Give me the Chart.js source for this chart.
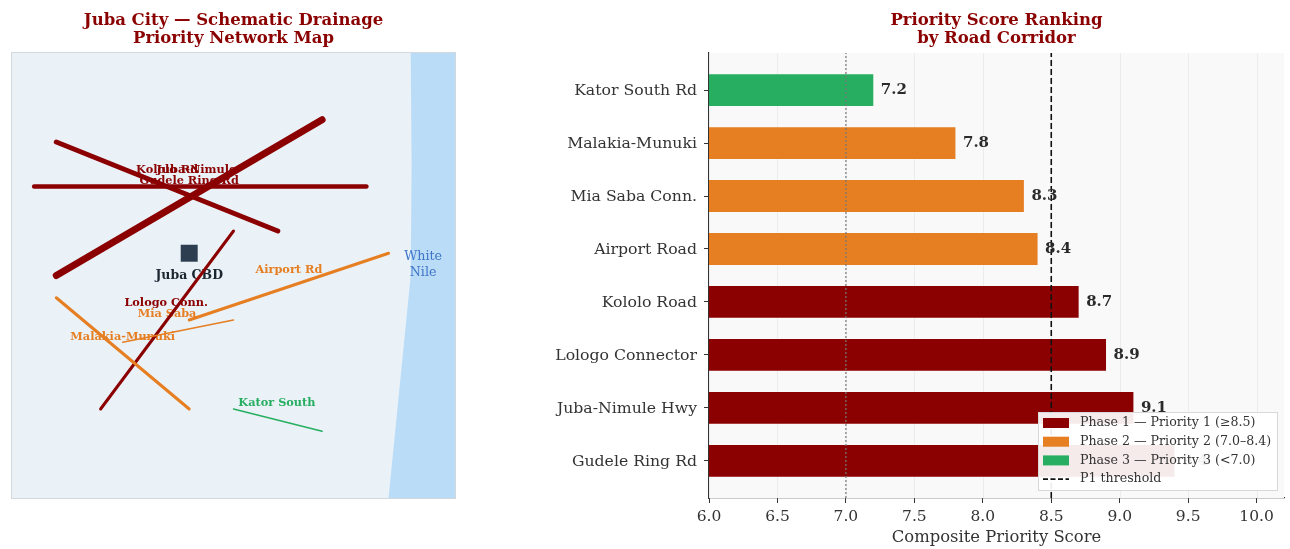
<!DOCTYPE html>
<html><head><meta charset="utf-8">
<style>
html,body{margin:0;padding:0;background:#fff;width:1290px;height:549px;overflow:hidden}
canvas{position:absolute;top:0}
#map{left:0}
#rank{left:540px}
</style>
<script src="https://cdn.jsdelivr.net/npm/chart.js@4/dist/chart.umd.min.js"></script>
</head><body>
<canvas id="map" width="467" height="549"></canvas>
<canvas id="rank" width="750" height="549"></canvas>
<script>
const FONT = '"DejaVu Serif"';
const P1 = '#8B0000', P2 = '#E67E22', P3 = '#27AE60', TITLE = '#8B0000', INK = '#2b2b2b';

// ---- Map data ----
const mapTitle = ['Juba City — Schematic Drainage', 'Priority Network Map'];
const roadGudele = [{x:0.5,y:7},{x:8,y:7}];
const roadKololo = [{x:1,y:8},{x:6,y:6}];
const roadNimule = [{x:1,y:5},{x:7,y:8.5}];
const roadLologo = [{x:2,y:2},{x:5,y:6}];
const roadAirport = [{x:4,y:4},{x:8.5,y:5.5}];
const roadMiaSaba = [{x:2.5,y:3.5},{x:5,y:4}];
const roadMalakia = [{x:1,y:4.5},{x:4,y:2}];
const roadKator = [{x:5,y:2},{x:7,y:1.5}];
const riverOutline = [{x:9,y:10},{x:9.02,y:7.5},{x:9,y:5},{x:8.8,y:3},{x:8.5,y:0},{x:10,y:0},{x:10,y:10},{x:9,y:10}];
const cbdPoint = [{x:4,y:5.5}];
const mapLabels = [
  ['Kololo Rd',3.5,7.37,P1],['Juba-Nimule',4.16,7.37,P1],['Gudele Ring Rd',4.0,7.12,P1],
  ['Lologo Conn.',3.48,4.38,P1],['Airport Rd',6.25,5.12,P2],['Mia Saba',3.5,4.13,P2],
  ['Malakia-Munuki',2.5,3.62,P2],['Kator South',5.98,2.13,P3]
];

// ---- Ranking data ----
const rankTitle = ['Priority Score Ranking', 'by Road Corridor'];
const corridors = ['Gudele Ring Rd','Juba-Nimule Hwy','Lologo Connector','Kololo Road','Airport Road','Mia Saba Conn.','Malakia-Munuki','Kator South Rd'];
const scores = [9.4,9.1,8.9,8.7,8.4,8.3,7.8,7.2];
const barColors = [P1,P1,P1,P1,P2,P2,P2,P3];
const xTickValues = [6,6.5,7,7.5,8,8.5,9,9.5,10];
const yLimits = [-0.7,7.7];
const xLimits = [6,10.2];
const thresholdP1 = 8.5, thresholdP2 = 7.0;
const legendRows = [
  ['Phase 1 — Priority 1 (≥8.5)',P1],['Phase 2 — Priority 2 (7.0–8.4)',P2],
  ['Phase 3 — Priority 3 (<7.0)',P3],['P1 threshold',null]
];

function road(data,color,w,order){return {type:'scatter',data,showLine:true,borderColor:color,borderWidth:w,borderCapStyle:'round',pointRadius:0,fill:false,tension:0,order};}

const mapPlugin = {
  id:'mapExtras',
  beforeDatasetsDraw(c){
    const a=c.chartArea,x=c.ctx;x.save();x.fillStyle='#EAF2F8';x.fillRect(a.left-.5,a.top-.5,a.width+1,a.height+1);x.restore();
  },
  beforeDatasetDraw(c,args){
    if(c.data.datasets[args.index].order!==9) return;
    const x=c.ctx,sx=c.scales.x,sy=c.scales.y;
    x.save();x.textAlign='center';x.textBaseline='middle';
    x.font='bold 11.3px '+FONT;
    mapLabels.forEach(l=>{x.fillStyle=l[3];x.fillText(l[0],sx.getPixelForValue(l[1]),sy.getPixelForValue(l[2]));});
    x.font='bold 12.5px '+FONT;x.fillStyle='#1b2631';
    x.fillText('Juba CBD',sx.getPixelForValue(4.0),sy.getPixelForValue(4.99));
    x.restore();
  },
  afterDatasetsDraw(c){
    const x=c.ctx,sx=c.scales.x,sy=c.scales.y,a=c.chartArea;
    x.save();x.textAlign='center';x.textBaseline='middle';
    x.font='12.7px '+FONT;x.fillStyle='#3F75C9';
    x.fillText('White',sx.getPixelForValue(9.28),sy.getPixelForValue(5.42));
    x.fillText('Nile',sx.getPixelForValue(9.28),sy.getPixelForValue(5.06));
    x.strokeStyle='#d3d8dc';x.lineWidth=1;x.strokeRect(a.left-.5,a.top-.5,a.width+1,a.height+1);
    x.restore();
  }
};

new Chart(document.getElementById('map'),{
  type:'scatter',
  data:{datasets:[
    {type:'scatter',data:riverOutline,showLine:true,fill:'shape',backgroundColor:'#BBDCF7',borderWidth:0,borderColor:'transparent',pointRadius:0,tension:0,order:10},
    road(roadGudele,P1,4.5,9),road(roadKololo,P1,5,8),road(roadNimule,P1,7,7),road(roadLologo,P1,3,6),
    road(roadAirport,P2,3,5),road(roadMiaSaba,P2,1.5,4),road(roadMalakia,P2,3,3),road(roadKator,P3,1.5,2),
    {type:'scatter',data:cbdPoint,pointStyle:'rect',pointRadius:12,pointBackgroundColor:'#2C3E50',pointBorderWidth:0,order:1}
  ]},
  options:{
    responsive:false,animation:false,devicePixelRatio:1,
    layout:{padding:{left:11,right:11,bottom:51,top:0}},
    scales:{x:{display:false,min:0,max:10},y:{display:false,min:0,max:10}},
    plugins:{legend:{display:false},tooltip:{enabled:false},
      title:{display:true,fullSize:false,text:mapTitle,color:TITLE,font:{family:FONT,size:16.5,weight:'bold',lineHeight:1.09},padding:{top:12,bottom:5}}}
  },
  plugins:[mapPlugin]
});

const rankPlugin = {
  id:'rankExtras',
  beforeDatasetsDraw(c){
    const a=c.chartArea,x=c.ctx;x.save();x.fillStyle='#F9F9F9';x.fillRect(a.left,a.top,a.width,a.height);
    x.strokeStyle='rgba(0,0,0,0.05)';x.lineWidth=1;
    xTickValues.forEach(v=>{const p=Math.round(c.scales.x.getPixelForValue(v))+.5;x.beginPath();x.moveTo(p,a.top);x.lineTo(p,a.bottom);x.stroke();});
    x.restore();
  },
  afterDatasetsDraw(c){
    const x=c.ctx,sx=c.scales.x,sy=c.scales.y;
    x.save();x.textBaseline='middle';x.textAlign='left';x.font='bold 15px '+FONT;x.fillStyle=INK;
    scores.forEach((v,i)=>x.fillText(v.toFixed(1),sx.getPixelForValue(v+0.055),sy.getPixelForValue(i)));
    // legend
    const L=498,T=412,W=240,H=79;
    x.fillStyle='rgba(255,255,255,0.92)';x.strokeStyle='#d8d8d8';x.lineWidth=1;
    x.fillRect(L,T,W,H);x.strokeRect(L+.5,T+.5,W-1,H-1);
    x.font='12.6px '+FONT;
    legendRows.forEach((r,i)=>{
      const y=T+11+i*18.7;
      if(r[1]){x.fillStyle=r[1];x.fillRect(L+5,y-5,26,10);}
      else{x.strokeStyle='#111';x.lineWidth=1.6;x.setLineDash([5,2.5]);x.beginPath();x.moveTo(L+5,y);x.lineTo(L+31,y);x.stroke();x.setLineDash([]);}
      x.fillStyle='#333';x.fillText(r[0],L+42,y);
    });
    x.restore();
  }
};

new Chart(document.getElementById('rank'),{
  type:'bar',
  data:{datasets:[
    {type:'line',data:[{x:thresholdP1,y:yLimits[0]},{x:thresholdP1,y:yLimits[1]}],borderColor:'#111',borderWidth:1.6,borderDash:[6,3],pointRadius:0,order:0,fill:false},
    {type:'line',data:[{x:thresholdP2,y:yLimits[0]},{x:thresholdP2,y:yLimits[1]}],borderColor:'#777',borderWidth:1.2,borderDash:[2,2],pointRadius:0,order:0,fill:false},
    {type:'bar',data:scores.map((v,i)=>({x:v,y:i})),backgroundColor:barColors,barPercentage:1,categoryPercentage:0.6,order:1}
  ]},
  options:{
    indexAxis:'y',responsive:false,animation:false,devicePixelRatio:1,
    layout:{padding:{left:0,right:6,top:0,bottom:0}},
    scales:{
      x:{type:'linear',min:xLimits[0],max:xLimits[1],offset:false,
        border:{display:true,color:'#333',width:1.2},
        grid:{display:true,offset:false,drawOnChartArea:false,drawTicks:true,tickLength:5,tickColor:'#333',tickWidth:1},
        afterBuildTicks(s){s.ticks=xTickValues.map(v=>({value:v}));},
        afterFit(s){s.height=51;},
        ticks:{autoSkip:false,includeBounds:false,maxRotation:0,color:'#333',font:{family:FONT,size:15.5},padding:5,callback:v=>v.toFixed(1)},
        title:{display:true,text:'Composite Priority Score',color:'#333',font:{family:FONT,size:16.4},padding:{top:2,bottom:1}}
      },
      y:{type:'linear',min:yLimits[0],max:yLimits[1],offset:false,
        border:{display:true,color:'#333',width:1.2},
        grid:{display:true,offset:false,drawOnChartArea:false,drawTicks:true,tickLength:5,tickColor:'#333',tickWidth:1},
        afterBuildTicks(s){s.ticks=corridors.map((c,i)=>({value:i}));},
        afterFit(s){s.width=169;},
        ticks:{autoSkip:false,includeBounds:false,color:'#333',font:{family:FONT,size:15.7},padding:7,labelOffset:1,callback:v=>corridors[v]}
      }
    },
    plugins:{legend:{display:false},tooltip:{enabled:false},
      title:{display:true,fullSize:false,text:rankTitle,color:TITLE,font:{family:FONT,size:16.5,weight:'bold',lineHeight:1.09},padding:{top:12,bottom:5}}}
  },
  plugins:[rankPlugin]
});
</script>
</body></html>
